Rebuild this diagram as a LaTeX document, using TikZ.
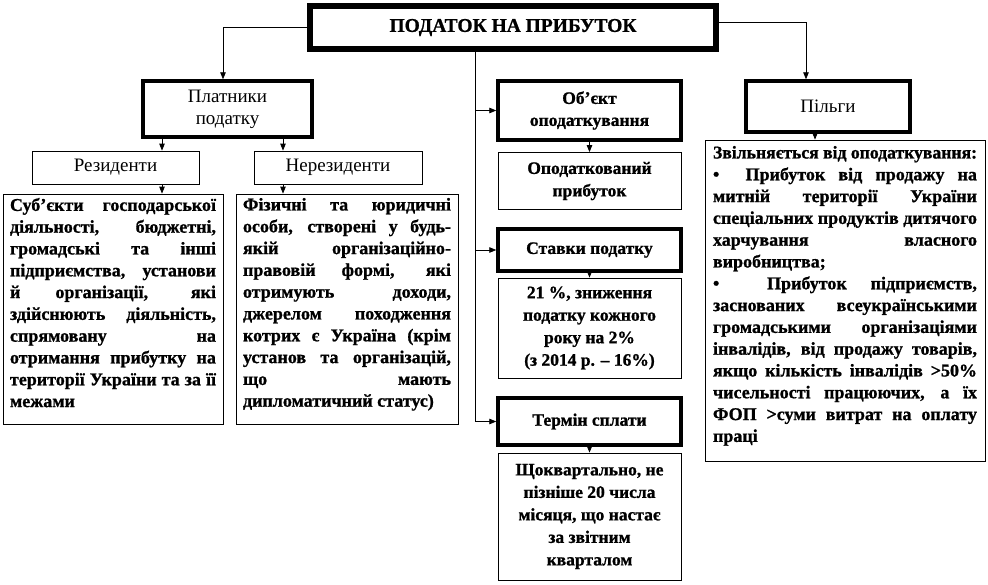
\documentclass[tikz,border=0pt]{standalone}
\usepackage{graphicx}
\usepackage{fontspec}
\setmainfont{Liberation Serif}[BoldFeatures={FakeBold=1}]
\usetikzlibrary{arrows.meta,calc}
\newsavebox\jlbox
\newcommand\jl[1]{\sbox\jlbox{#1}\ifdim\wd\jlbox>\linewidth\resizebox{\linewidth}{\height}{\usebox\jlbox}\else\makebox[\linewidth][s]{#1}\fi\par}
\newcommand\jn[1]{\sbox\jlbox{#1}\ifdim\wd\jlbox>\linewidth\resizebox{\linewidth}{\height}{\usebox\jlbox}\else\usebox\jlbox\fi\par}
\newcommand\bodyfont{\fontsize{18}{21.8}\selectfont\bfseries}
\tikzset{
  titlebox/.style={draw, line width=4pt, inner sep=0pt, minimum width=408pt, minimum height=45pt, font=\fontsize{19.5}{21}\selectfont\bfseries},
  thinbox/.style={draw, line width=0.8pt, inner sep=0pt, align=center, font=\fontsize{17.5}{22.5}\selectfont\bfseries},
  thickbox/.style={draw, line width=3.4pt, inner sep=0pt, align=center, font=\fontsize{17.5}{22}\selectfont\bfseries},
  reg/.style={font=\fontsize{19}{22}\selectfont},
  arr/.style={line width=0.8pt, -{Triangle[length=7pt,width=5.5pt]}},
  link/.style={line width=0.8pt}
}
\begin{document}
\begin{tikzpicture}[x=1pt,y=-1pt]
\useasboundingbox (0,0) rectangle (988,584);
% title
\node[titlebox] (title) at (513,27.5) {ПОДАТОК НА ПРИБУТОК};
\draw[line width=1.3pt] ([shift={(5,5)}]title.north west) rectangle ([shift={(-5,-5)}]title.south east);
% left branch
\node[thickbox, reg, minimum width=169pt, minimum height=56pt] (plat) at (227.5,109) {Платники\\податку};
\node[thinbox, reg, minimum width=167pt, minimum height=33pt] (rez) at (115.5,167.5) {Резиденти};
\node[thinbox, reg, minimum width=168pt, minimum height=33pt] (nerez) at (338,167.5) {Нерезиденти};
\node[thinbox, minimum width=220pt, minimum height=230pt] (rezt) at (113,309) {\parbox[c][222pt][t]{206pt}{\bodyfont
\jl{Суб’єкти господарської}
\jl{діяльності, бюджетні,}
\jl{громадські та інші}
\jl{підприємства, установи}
\jl{й організації, які}
\jl{здійснюють діяльність,}
\jl{спрямовану на}
\jl{отримання прибутку на}
\jl{території України та за її}
\jn{межами}}};
\node[thinbox, minimum width=222pt, minimum height=230pt] (nerezt) at (347,309) {\parbox[c][222pt][t]{208pt}{\bodyfont
\jl{Фізичні та юридичні}
\jl{особи, створені у будь-}
\jl{якій організаційно-}
\jl{правовій формі, які}
\jl{отримують доходи,}
\jl{джерелом походження}
\jl{котрих є Україна (крім}
\jl{установ та організацій,}
\jl{що мають}
\jn{дипломатичний статус)}}};
% middle column
\node[thickbox, minimum width=183pt, minimum height=59pt] (obj) at (589.5,110.5) {Об’єкт\\оподаткування};
\node[thinbox, minimum width=183pt, minimum height=57pt] (opod) at (589.5,181) {Оподаткований\\прибуток};
\node[thickbox, minimum width=183pt, minimum height=42pt] (stav) at (589.5,250) {Ставки податку};
\node[thinbox, minimum width=183pt, minimum height=100pt] (rate) at (589.5,328) {21 \%, зниження\\податку кожного\\року на 2\%\\(з 2014 р. – 16\%)};
\node[thickbox, minimum width=183pt, minimum height=47pt] (term) at (589.5,421.5) {Термін сплати};
\node[thinbox, minimum width=183pt, minimum height=127pt] (kvart) at (589.5,516.5) {Щоквартально, не\\пізніше 20 числа\\місяця, що настає\\за звітним\\кварталом};
% right column
\node[thickbox, reg, minimum width=164pt, minimum height=51pt] (pilg) at (828,106.5) {Пільги};
\node[thinbox, minimum width=280pt, minimum height=321pt] (zvil) at (845,300.5) {\parbox[c][309pt][t]{264pt}{\bodyfont
\jl{Звільняється від оподаткування:}
\jl{•\ \ Прибуток від продажу на}
\jl{митній території України}
\jl{спеціальних продуктів дитячого}
\jl{харчування власного}
\jn{виробництва;}
\jl{•\ \ Прибуток підприємств,}
\jl{заснованих всеукраїнськими}
\jl{громадськими організаціями}
\jl{інвалідів, від продажу товарів,}
\jl{якщо кількість інвалідів >50\%}
\jl{чисельності працюючих, а їх}
\jl{ФОП >суми витрат на оплату}
\jn{праці}}};
% connectors
\draw[arr] (title.west) -| ([shift={(-4.5,0)}]plat.north);
\draw[arr] ([shift={(0,-5.5)}]title.east) -| ([shift={(-22,0)}]pilg.north);
\coordinate (trunk) at ([shift={(-38,0)}]title.south);
\draw[arr] (trunk) |- (term.west);
\draw[arr] (trunk |- obj.west) -- (obj.west);
\draw[arr] (trunk |- stav.west) -- (stav.west);
\coordinate (ra) at ([shift={(46.5,0)}]rez.north);
\draw[arr] (ra |- plat.south) -- (ra);
\draw[arr] (ra |- rez.south) -- (ra |- rezt.north);
\coordinate (na) at ([shift={(-55,0)}]nerez.north);
\draw[arr] (na |- plat.south) -- (na);
\draw[arr] (na |- nerez.south) -- (na |- nerezt.north);
\draw[arr] (obj.south) -- (opod.north);
\draw[arr] (stav.south) -- (rate.north);
\draw[arr] (term.south) -- (kvart.north);
\coordinate (pa) at ([shift={(-30,0)}]zvil.north);
\draw[arr] (pa |- pilg.south) -- (pa);
\end{tikzpicture}
\end{document}
